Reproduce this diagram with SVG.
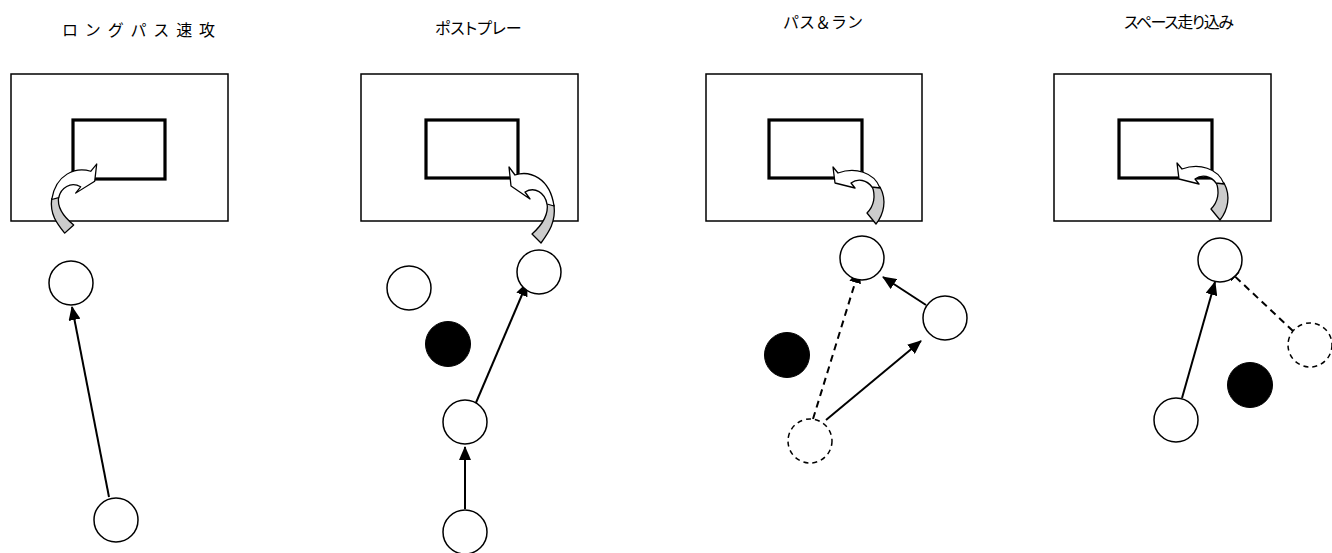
<svg xmlns="http://www.w3.org/2000/svg" width="1332" height="553" viewBox="0 0 1332 553">
<style>
.title{font-family:"Noto Sans CJK JP","Noto Sans",sans-serif;font-size:16px;fill:#000}
.tp{font-feature-settings:"palt" 1}
.outer{fill:#fff;stroke:#000;stroke-width:1.5}
.inner{fill:none;stroke:#000;stroke-width:3.2}
.p{fill:#fff;stroke:#000;stroke-width:1.5}
.pd{fill:#fff;stroke:#000;stroke-width:1.5;stroke-dasharray:5,4}
.d{fill:#000;stroke:#000;stroke-width:1}
.arrw{fill:#fff;stroke:#000;stroke-width:1.3;stroke-linejoin:round}
.arrg{fill:#ccc;stroke:#000;stroke-width:1.3;stroke-linejoin:round}
.ln{stroke:#000;stroke-width:2;fill:none}
.dl{stroke:#000;stroke-width:2;fill:none;stroke-dasharray:7,5}
</style>
<defs>
<marker id="ah" viewBox="0 0 14 12" refX="13" refY="6" markerWidth="14" markerHeight="12" markerUnits="userSpaceOnUse" orient="auto">
<path d="M0,0 L14,6 L0,12 Z" fill="#000"/>
</marker>
<g id="curveA">
<path class="arrg" d="M547,203 C549,215 541,226 532,234 L541,243 C549,232 556,222 554,205 Z"/>
<path class="arrw" d="M515,175 L509,167 L511,186 L530,199 L525,192 C535,186 545,193 547,204 L554,206 C550,178 530,170 515,175 Z"/>
</g>
<g id="curveB">
<path class="arrg" d="M872,186 C876,196 874,206 867,213 L876,224 C884,214 887,200 880,187 Z"/>
<path class="arrw" d="M838,173 L833,167 L835,183 L855,188 L851,183 C858,178 867,180 872,187 L880,188 C874,172 855,167 838,173 Z"/>
</g>
</defs>

<g id="titles">
<text class="title" x="62" y="36" textLength="153" lengthAdjust="spacing">ロングパス速攻</text>
<text class="title tp" x="435" y="34">ポストプレー</text>
<text class="title" x="783" y="28">パス＆ラン</text>
<text class="title tp" x="1124" y="28" textLength="110" lengthAdjust="spacing">スペース走り込み</text>
</g>

<g id="court1">
<rect class="outer" x="11" y="74" width="217" height="147"/>
<rect class="inner" x="73" y="120" width="92" height="59"/>
<use href="#curveA" transform="translate(605.7,12.03) scale(-1,0.91)"/>
</g>
<g id="court2">
<rect class="outer" x="361" y="74" width="217" height="147"/>
<rect class="inner" x="426" y="120" width="92" height="58"/>
<use href="#curveA"/>
</g>
<g id="court3">
<rect class="outer" x="706" y="74" width="216" height="147"/>
<rect class="inner" x="769" y="120" width="93" height="58"/>
<use href="#curveB"/>
</g>
<g id="court4">
<rect class="outer" x="1054" y="74" width="217" height="147"/>
<rect class="inner" x="1119" y="120" width="93" height="58"/>
<use href="#curveB" transform="translate(344,-4)"/>
</g>

<g id="connectors">
<line class="ln" x1="109" y1="497" x2="72" y2="307" marker-end="url(#ah)"/>
<line class="ln" x1="465" y1="509" x2="465" y2="447" marker-end="url(#ah)"/>
<line class="ln" x1="475" y1="405" x2="527" y2="283" marker-end="url(#ah)"/>
<line class="ln" x1="826" y1="420" x2="921" y2="341" marker-end="url(#ah)"/>
<line class="dl" x1="813" y1="419" x2="859" y2="270" marker-end="url(#ah)"/>
<line class="ln" x1="926" y1="305" x2="883" y2="277" marker-end="url(#ah)"/>
<line class="ln" x1="1182" y1="398" x2="1215" y2="282" marker-end="url(#ah)"/>
<line class="dl" x1="1293" y1="331" x2="1226" y2="268" marker-end="url(#ah)"/>
</g>

<g id="p1-a"><circle class="p" cx="71" cy="283" r="22"/></g>
<g id="p1-b"><circle class="p" cx="116" cy="520" r="22"/></g>

<g id="p2-a"><circle class="p" cx="409" cy="288" r="22"/></g>
<g id="p2-b"><circle class="p" cx="539" cy="272" r="22"/></g>
<g id="p2-d"><circle class="d" cx="448" cy="344" r="22.5"/></g>
<g id="p2-c"><circle class="p" cx="465" cy="422" r="22"/></g>
<g id="p2-e"><circle class="p" cx="465" cy="532" r="22"/></g>

<g id="p3-a"><circle class="p" cx="862" cy="258" r="22"/></g>
<g id="p3-b"><circle class="p" cx="945" cy="318" r="22"/></g>
<g id="p3-d"><circle class="d" cx="787" cy="355" r="22.5"/></g>
<g id="p3-c"><circle class="pd" cx="810" cy="441" r="22"/></g>

<g id="p4-a"><circle class="p" cx="1220" cy="260" r="22"/></g>
<g id="p4-c"><circle class="pd" cx="1310" cy="345" r="22"/></g>
<g id="p4-d"><circle class="d" cx="1250" cy="385" r="22.5"/></g>
<g id="p4-b"><circle class="p" cx="1176" cy="420" r="22"/></g>
</svg>
